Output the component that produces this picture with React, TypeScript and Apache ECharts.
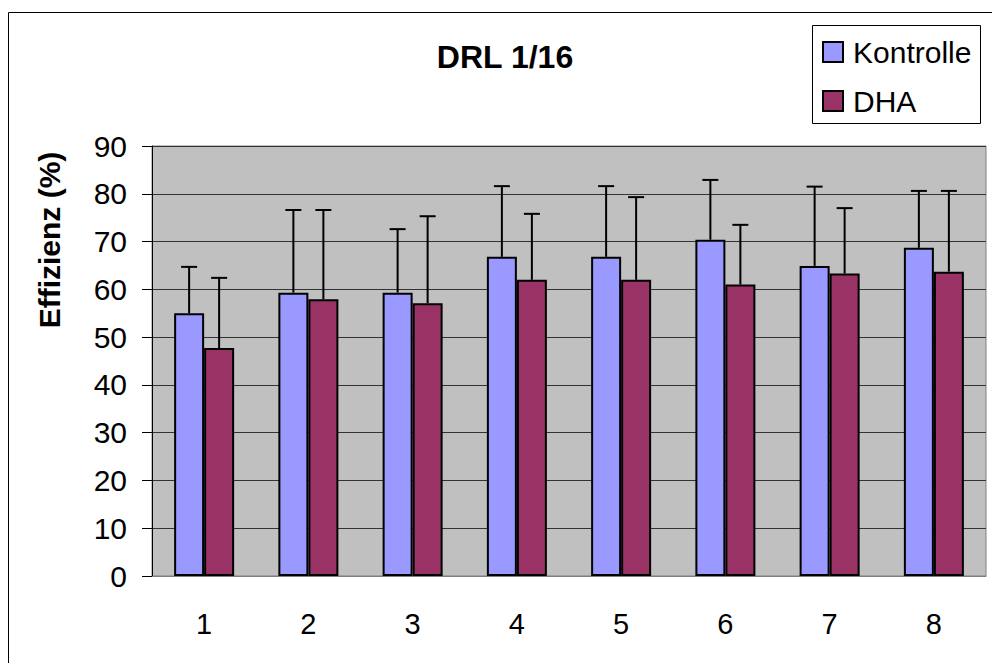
import React, { useEffect, useRef } from "react";
import * as echarts from "echarts";

const categories = ["1", "2", "3", "4", "5", "6", "7", "8"];
const kontrolleMeans = [55.0, 59.3, 59.3, 66.8, 66.8, 70.4, 64.9, 68.7];
const kontrolleErrors = [9.7, 17.3, 13.3, 14.8, 14.8, 12.5, 16.6, 11.9];
const dhaMeans = [47.7, 57.9, 57.1, 62.0, 62.0, 61.0, 63.3, 63.7];
const dhaErrors = [14.7, 18.7, 18.2, 13.8, 17.3, 12.5, 13.7, 16.9];
const yTicks = { min: 0, max: 90, interval: 10 };

const FONT = 'Arial, "Liberation Sans", sans-serif';
const BAR_W = 30;

function errorSeries(name: string, means: number[], errs: number[], offset: number) {
  return {
    type: "custom",
    name: name + "-err",
    data: means.map((m, i) => [i, m, errs[i]]),
    encode: { x: 0, y: 1 },
    z: 5,
    silent: true,
    renderItem: (params: any, api: any) => {
      const idx = api.value(0);
      const mean = api.value(1);
      const err = api.value(2);
      const base = api.coord([idx, mean]);
      const top = api.coord([idx, mean + err]);
      const x = base[0] + offset;
      const style = { stroke: "#000", lineWidth: 2 };
      return {
        type: "group",
        children: [
          { type: "line", shape: { x1: x, y1: base[1], x2: x, y2: top[1] }, style },
          { type: "line", shape: { x1: x - 8, y1: top[1], x2: x + 8, y2: top[1] }, style },
        ],
      };
    },
  };
}

export default function App() {
  const ref = useRef<HTMLDivElement>(null);
  useEffect(() => {
    if (!ref.current) return;
    const chart = echarts.init(ref.current, undefined, { renderer: "svg" });
    chart.setOption({
      animation: false,
      backgroundColor: "#fff",
      textStyle: { fontFamily: FONT },
      grid: {
        left: 152,
        top: 146,
        width: 834,
        height: 430,
        show: true,
        backgroundColor: "#c0c0c0",
        borderColor: "#808080",
        borderWidth: 1,
      },
      graphic: [
        {
          type: "rect",
          shape: { x: 8.5, y: 12.5, width: 1100, height: 800 },
          style: { fill: "none", stroke: "#000", lineWidth: 1 },
          z: 100,
          silent: true,
        },
        {
          type: "text",
          x: 505,
          y: 57,
          style: {
            text: "DRL 1/16",
            font: "bold 32px " + FONT,
            fill: "#000",
            textAlign: "center",
            textVerticalAlign: "middle",
          },
        },
        {
          type: "text",
          x: 49,
          y: 240,
          rotation: Math.PI / 2,
          style: {
            text: "Effizienz (%)",
            font: "bold 30px " + FONT,
            fill: "#000",
            textAlign: "center",
            textVerticalAlign: "middle",
          },
        },
        {
          type: "rect",
          shape: { x: 812.5, y: 25.5, width: 168, height: 98 },
          style: { fill: "#fff", stroke: "#000", lineWidth: 1 },
          z: -1,
        },
      ],
      legend: {
        data: ["Kontrolle", "DHA"],
        orient: "vertical",
        left: 822,
        top: 37,
        padding: 0,
        itemWidth: 20,
        itemHeight: 20,
        itemGap: 19,
        icon: "rect",
        textStyle: { fontSize: 30, fontFamily: FONT, color: "#000", padding: [0, 0, 0, 5] },
      },
      xAxis: {
        type: "category",
        data: categories,
        axisLine: { lineStyle: { color: "#808080", width: 1 } },
        axisTick: { length: 10, lineStyle: { color: "#000" } },
        axisLabel: { fontSize: 29, color: "#000", margin: 33, fontFamily: FONT },
        splitLine: { show: false },
      },
      yAxis: {
        type: "value",
        min: yTicks.min,
        max: yTicks.max,
        interval: yTicks.interval,
        axisLine: { show: true, lineStyle: { color: "#000", width: 1 } },
        axisTick: { show: true, length: 10, lineStyle: { color: "#000" } },
        axisLabel: { fontSize: 30, color: "#000", margin: 25, fontFamily: FONT },
        splitLine: { show: true, lineStyle: { color: "#333", width: 1 } },
      },
      series: [
        {
          type: "bar",
          name: "Kontrolle",
          data: kontrolleMeans,
          barWidth: BAR_W,
          barGap: "0%",
          itemStyle: { color: "#9999FF", borderColor: "#000", borderWidth: 2 },
        },
        {
          type: "bar",
          name: "DHA",
          data: dhaMeans,
          barWidth: BAR_W,
          barGap: "0%",
          itemStyle: { color: "#993366", borderColor: "#000", borderWidth: 2 },
        },
        errorSeries("Kontrolle", kontrolleMeans, kontrolleErrors, -BAR_W / 2),
        errorSeries("DHA", dhaMeans, dhaErrors, BAR_W / 2),
      ],
    });
    return () => chart.dispose();
  }, []);
  return (
    <div
      ref={ref}
      style={{ position: "fixed", left: 0, top: 0, width: 992, height: 663 }}
    />
  );
}
